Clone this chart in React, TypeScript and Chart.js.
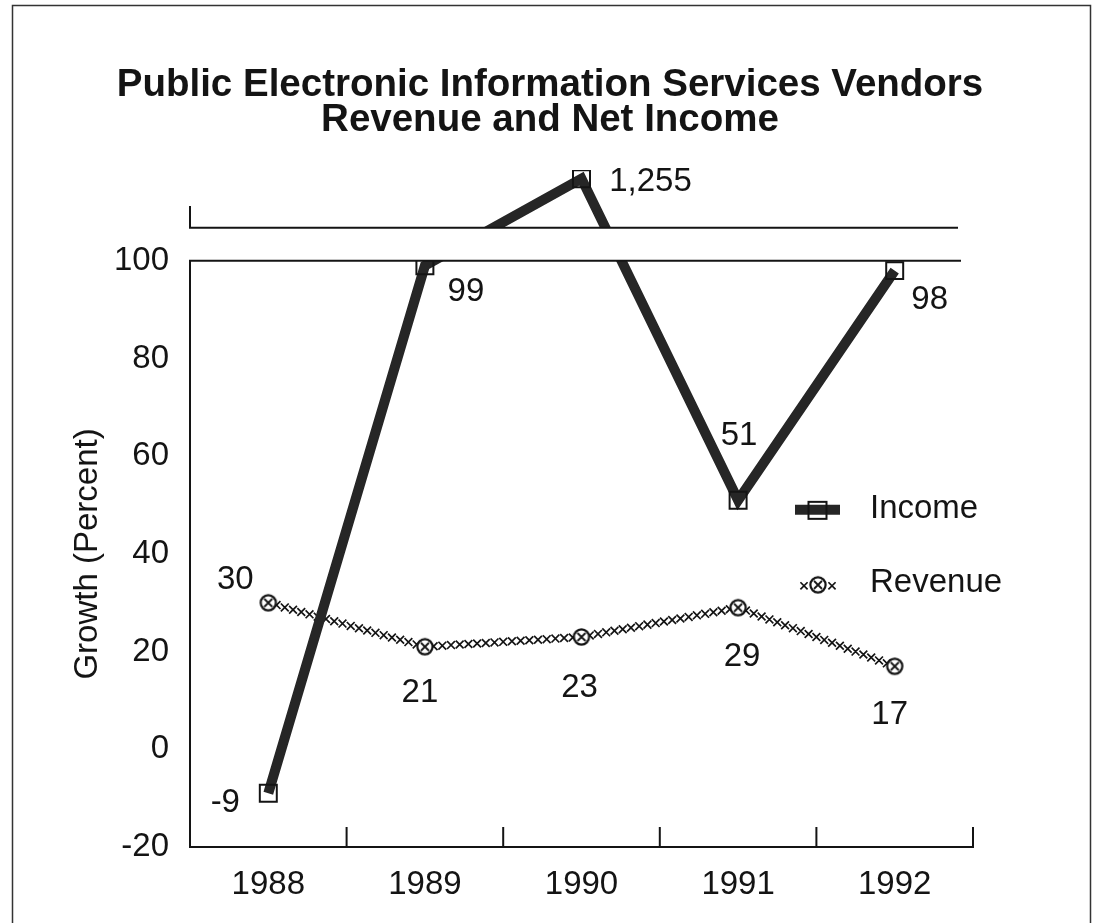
import React, { useEffect, useRef } from 'react';
import { Chart, registerables } from 'chart.js';

Chart.register(...registerables);

// ---------- data ----------
const TITLE_LINES = ['Public Electronic Information Services Vendors', 'Revenue and Net Income'];
const Y_TITLE = 'Growth (Percent)';
const YEARS = ['1988', '1989', '1990', '1991', '1992'];
const SERIES_NAMES = ['Income', 'Revenue'];
const INCOME = [-9, 99, 1255, 51, 98];
const REVENUE = [30, 21, 23, 29, 17];
const INCOME_LABELS = ['-9', '99', '1,255', '51', '98'];
const REVENUE_LABELS = ['30', '21', '23', '29', '17'];
const Y_TICKS = [-20, 0, 20, 40, 60, 80, 100];

// ---------- broken axis (lower panel -20..100, upper panel for the 1,255 outlier) ----------
const LOWER_MIN = -20;
const LOWER_MAX = 100;
const BREAK_AXIS = 106.8; // axis units where the upper panel begins
const AXIS_MAX = 118.6;
const UPPER_MIN = 1000;
const UPPER_MAX = 1300;
const STUB_AXIS = 111;

function toAxis(v: number): number {
  if (v <= LOWER_MAX) return v;
  return BREAK_AXIS + ((v - UPPER_MIN) * (AXIS_MAX - BREAK_AXIS)) / (UPPER_MAX - UPPER_MIN);
}

// ---------- styles ----------
const FONT = '"Liberation Sans", Arial, Helvetica, sans-serif';
const TEXT_SIZE = 33;
const TITLE_SIZE = 38.5;
const INK = '#141414';
const LINE_INK = '#262626';
const INCOME_LABEL_OFFSETS: [number, number][] = [[-43, 7], [41, 23], [69, 1], [1, -67], [35, 27]];
const REVENUE_LABEL_OFFSETS: [number, number][] = [[-33, -26], [-5, 43], [-2, 48], [4, 47], [-5, 46]];

function makeRevenueMarker(): HTMLCanvasElement {
  const c = document.createElement('canvas');
  c.width = 20;
  c.height = 20;
  const g = c.getContext('2d')!;
  g.fillStyle = '#fff';
  g.strokeStyle = INK;
  g.lineWidth = 2.2;
  g.beginPath();
  g.arc(10, 10, 7.6, 0, Math.PI * 2);
  g.fill();
  g.stroke();
  g.lineWidth = 1.8;
  g.beginPath();
  g.moveTo(6, 6);
  g.lineTo(14, 14);
  g.moveTo(14, 6);
  g.lineTo(6, 14);
  g.stroke();
  return c;
}

function drawX(ctx: CanvasRenderingContext2D, x: number, y: number, h: number) {
  ctx.moveTo(x - h, y - h);
  ctx.lineTo(x + h, y + h);
  ctx.moveTo(x + h, y - h);
  ctx.lineTo(x - h, y + h);
}

function text(ctx: CanvasRenderingContext2D, s: string, cx: number, cy: number, size: number, align: CanvasTextAlign = 'center', bold = false) {
  ctx.font = `${bold ? 'bold ' : ''}${size}px ${FONT}`;
  ctx.textAlign = align;
  ctx.textBaseline = 'alphabetic';
  ctx.fillStyle = INK;
  ctx.fillText(s, cx, cy + size * 0.358);
}

export default function App() {
  const ref = useRef<HTMLCanvasElement>(null);

  useEffect(() => {
    const canvas = ref.current!;
    const marker = makeRevenueMarker();

    const decor = {
      id: 'decor',
      beforeDatasetDraw(chart: any, args: any) {
        const ctx: CanvasRenderingContext2D = chart.ctx;
        const { left, right, top, bottom } = chart.chartArea;
        const y = chart.scales.y;
        if (args.index === 0) {
          const yBreak = y.getPixelForValue(BREAK_AXIS);
          const y100 = y.getPixelForValue(LOWER_MAX);
          ctx.save();
          ctx.beginPath();
          ctx.rect(left - 30, top - 30, right - left + 60, yBreak - top + 30);
          ctx.rect(left - 30, y100, right - left + 60, bottom - y100 + 30);
          ctx.clip();
        } else if (args.index === 1) {
          const pts = chart.getDatasetMeta(1).data;
          ctx.save();
          ctx.strokeStyle = INK;
          ctx.lineWidth = 1.7;
          ctx.beginPath();
          for (let i = 0; i < pts.length - 1; i++) {
            const a = pts[i];
            const b = pts[i + 1];
            const dx = b.x - a.x;
            const dy = b.y - a.y;
            const n = Math.round(Math.hypot(dx, dy) / 8.5);
            for (let k = 1; k < n; k++) {
              drawX(ctx, a.x + (dx * k) / n, a.y + (dy * k) / n, 3.9);
            }
          }
          ctx.stroke();
          ctx.restore();
        }
      },
      afterDatasetDraw(chart: any, args: any) {
        if (args.index === 0) chart.ctx.restore();
      },
      afterDraw(chart: any) {
        const ctx: CanvasRenderingContext2D = chart.ctx;
        const { left, right, bottom } = chart.chartArea;
        const x = chart.scales.x;
        const y = chart.scales.y;
        const y100 = y.getPixelForValue(LOWER_MAX);
        const yBreak = y.getPixelForValue(BREAK_AXIS);
        const yStub = y.getPixelForValue(STUB_AXIS);

        ctx.save();
        ctx.strokeStyle = INK;
        ctx.lineWidth = 2;
        ctx.lineCap = 'square';
        ctx.beginPath();
        // lower panel frame (left axis + top line)
        ctx.moveTo(left, bottom);
        ctx.lineTo(left, y100);
        ctx.lineTo(right - 13, y100);
        // upper panel (stub + bottom line)
        ctx.moveTo(left, yStub);
        ctx.lineTo(left, yBreak);
        ctx.lineTo(right - 16, yBreak);
        // x axis
        ctx.moveTo(left, bottom);
        ctx.lineTo(right, bottom);
        // x ticks at category boundaries (pointing up)
        for (let i = 0; i < YEARS.length; i++) {
          const bx = i < YEARS.length - 1 ? (x.getPixelForValue(i) + x.getPixelForValue(i + 1)) / 2 : right;
          ctx.moveTo(bx, bottom);
          ctx.lineTo(bx, bottom - 19);
        }
        ctx.stroke();
        ctx.restore();

        // data labels
        const incMeta = chart.getDatasetMeta(0).data;
        const revMeta = chart.getDatasetMeta(1).data;
        INCOME_LABELS.forEach((s, i) => {
          const p = incMeta[i];
          text(ctx, s, p.x + INCOME_LABEL_OFFSETS[i][0], p.y + INCOME_LABEL_OFFSETS[i][1], TEXT_SIZE);
        });
        REVENUE_LABELS.forEach((s, i) => {
          const p = revMeta[i];
          text(ctx, s, p.x + REVENUE_LABEL_OFFSETS[i][0], p.y + REVENUE_LABEL_OFFSETS[i][1], TEXT_SIZE);
        });

        // legend
        const lx = right - 178;
        const ly1 = y100 + 245;
        const ly2 = ly1 + 74;
        ctx.save();
        ctx.strokeStyle = LINE_INK;
        ctx.lineWidth = 10;
        ctx.beginPath();
        ctx.moveTo(lx, ly1 + 4);
        ctx.lineTo(lx + 45, ly1 + 4);
        ctx.stroke();
        ctx.strokeStyle = INK;
        ctx.lineWidth = 2;
        ctx.strokeRect(lx + 13.5, ly1 - 4, 18, 17);
        ctx.lineWidth = 1.7;
        ctx.beginPath();
        drawX(ctx, lx + 9, ly2 + 6, 3.6);
        drawX(ctx, lx + 37, ly2 + 6, 3.6);
        ctx.stroke();
        ctx.drawImage(marker, lx + 23 - 10, ly2 + 5 - 10);
        ctx.restore();
        text(ctx, SERIES_NAMES[0], lx + 75, ly1, TEXT_SIZE, 'left');
        text(ctx, SERIES_NAMES[1], lx + 75, ly2, TEXT_SIZE, 'left');

        // axis title
        ctx.save();
        ctx.translate(85, (y100 + bottom) / 2);
        ctx.rotate(-Math.PI / 2);
        text(ctx, Y_TITLE, 0, 0, TEXT_SIZE);
        ctx.restore();

        // chart title
        text(ctx, TITLE_LINES[0], 550, 82, TITLE_SIZE, 'center', true);
        text(ctx, TITLE_LINES[1], 550, 117, TITLE_SIZE, 'center', true);

        // frame
        ctx.save();
        ctx.strokeStyle = '#333';
        ctx.lineWidth = 1.5;
        ctx.strokeRect(12.5, 5.5, 1078, 950);
        ctx.restore();
      },
    };

    const chart = new Chart(canvas, {
      type: 'line',
      data: {
        labels: YEARS,
        datasets: [
          {
            label: SERIES_NAMES[0],
            data: INCOME.map(toAxis),
            borderColor: LINE_INK,
            borderWidth: 10,
            tension: 0,
            pointStyle: 'rect',
            pointRadius: 12,
            pointBackgroundColor: 'rgba(0,0,0,0)',
            pointBorderColor: INK,
            pointBorderWidth: 2,
          },
          {
            label: SERIES_NAMES[1],
            data: REVENUE.map(toAxis),
            showLine: false,
            pointStyle: marker,
            pointRadius: 10,
          },
        ],
      },
      plugins: [decor],
      options: {
        responsive: false,
        animation: false,
        events: [],
        layout: { padding: { top: 170, right: 126, left: 0, bottom: 0 } },
        plugins: {
          legend: { display: false },
          title: { display: false },
          tooltip: { enabled: false },
        },
        scales: {
          x: {
            type: 'category',
            offset: true,
            grid: { display: false },
            border: { display: false },
            ticks: { color: INK, font: { family: FONT, size: TEXT_SIZE }, padding: 10, maxRotation: 0 },
            afterFit: (s: any) => {
              s.height = 76;
            },
          },
          y: {
            type: 'linear',
            min: LOWER_MIN,
            max: AXIS_MAX,
            grid: { display: false },
            border: { display: false },
            ticks: { color: INK, font: { family: FONT, size: TEXT_SIZE }, padding: 13 },
            afterBuildTicks: (s: any) => {
              s.ticks = Y_TICKS.map((v) => ({ value: v }));
            },
            afterFit: (s: any) => {
              s.width = 190;
            },
          },
        },
      },
    } as any);

    return () => chart.destroy();
  }, []);

  return (
    <div style={{ position: 'fixed', left: 0, top: 0, width: 1099, height: 923, background: '#fff', overflow: 'hidden' }}>
      <canvas ref={ref} width={1099} height={923} style={{ display: 'block', width: 1099, height: 923 }} />
    </div>
  );
}
